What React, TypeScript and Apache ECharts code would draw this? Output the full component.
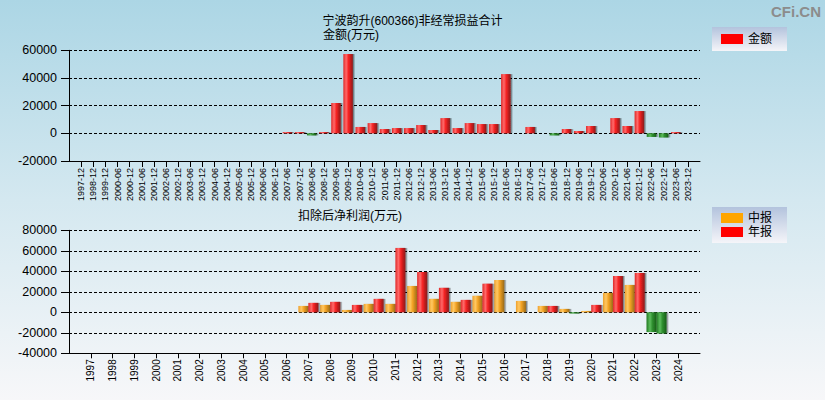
import React, { useEffect, useRef } from "react";
import * as echarts from "echarts";

const topCategories = [
  "1997-12", "1998-12", "1999-12", "2000-06", "2000-12", "2001-06", "2001-12", "2002-06", "2002-12",
  "2003-06", "2003-12", "2004-06", "2004-12", "2005-06", "2005-12", "2006-06", "2006-12", "2007-06",
  "2007-12", "2008-06", "2008-12", "2009-06", "2009-12", "2010-06", "2010-12", "2011-06", "2011-12",
  "2012-06", "2012-12", "2013-06", "2013-12", "2014-06", "2014-12", "2015-06", "2015-12", "2016-06",
  "2016-12", "2017-06", "2017-12", "2018-06", "2018-12", "2019-06", "2019-12", "2020-06", "2020-12",
  "2021-06", "2021-12", "2022-06", "2022-12", "2023-06", "2023-12",
];

const topValues: (number | null)[] = [
  null, null, null, null, null, null, null, null, null,
  null, null, null, null, null, null, null, null, 900,
  900, -1500, 900, 21900, 57300, 4600, 7400, 3100, 3800,
  3800, 6000, 2400, 11000, 3800, 7400, 6700, 6700, 42800,
  null, 4600, null, -1500, 3100, 1700, 5300, null, 11000,
  5300, 16100, -2600, -3000, 900, null,
];

const years = [
  "1997", "1998", "1999", "2000", "2001", "2002", "2003", "2004", "2005", "2006", "2007", "2008", "2009", "2010",
  "2011", "2012", "2013", "2014", "2015", "2016", "2017", "2018", "2019", "2020", "2021", "2022", "2023", "2024",
];

const interimValues: (number | null)[] = [
  null, null, null, null, null, null, null, null, null, null, 6200, 7200, 2300, 8200,
  8200, 25700, 13100, 10200, 16100, 31500, 11100, 6200, 3300, 1300, 19000, 26700, -19300, null,
];

const annualValues: (number | null)[] = [
  null, null, null, null, null, null, null, null, null, null, 9200, 10200, 7200, 13100,
  62800, 39300, 23900, 12100, 27900, null, null, 6200, -1200, 7200, 35400, 38400, -20700, null,
];

const grad = (stops: [number, string][]) =>
  new echarts.graphic.LinearGradient(0, 0, 1, 0, stops.map(([offset, color]) => ({ offset, color })));

const redGrad = () => grad([[0, "#e02828"], [0.3, "#ff6a6a"], [0.55, "#f52222"], [1, "#8c1a1a"]]);
const orangeGrad = () => grad([[0, "#eea02c"], [0.3, "#ffc862"], [0.55, "#f2a224"], [1, "#9a6b18"]]);
const greenGrad = () => grad([[0, "#1e7a1e"], [0.35, "#5cbc5c"], [0.6, "#2e8e2e"], [1, "#1a5e1a"]]);

const pad = <T,>(arr: T[], v: T): T[] => [v, ...arr, v];

const FONT = "'Liberation Sans', 'Noto Sans CJK SC', sans-serif";

export default function App() {
  const ref = useRef<HTMLDivElement>(null);

  useEffect(() => {
    if (!ref.current) return;
    const chart = echarts.init(ref.current, undefined, { renderer: "svg" });

    const legendBg = new echarts.graphic.LinearGradient(0, 0, 0, 1, [
      { offset: 0, color: "#b3c3dd" },
      { offset: 1, color: "#f5f5f9" },
    ]);

    const yAxisCommon = {
      type: "value" as const,
      interval: 20000,
      axisLine: { show: true, lineStyle: { color: "#000", width: 1 } },
      axisTick: { show: true, length: 8, lineStyle: { color: "#000" } },
      axisLabel: {
        color: "#000",
        fontSize: 12.5,
        fontFamily: FONT,
        margin: 12,
        formatter: (v: number) => String(v),
      },
      splitLine: { show: true, lineStyle: { color: "#000", type: [3, 2] as any, width: 1 } },
    };

    const shadow = { shadowColor: "rgba(0,0,0,0.45)", shadowOffsetX: 1.5, shadowOffsetY: 0, shadowBlur: 0 };

    chart.setOption({
      animation: false,
      backgroundColor: "transparent",
      textStyle: { fontFamily: FONT },
      title: [
        {
          text: "宁波韵升(600366)非经常损益合计",
          left: "center",
          top: 10,
          textStyle: { fontSize: 12, fontWeight: "normal", color: "#000", fontFamily: FONT },
        },
        {
          text: "金额(万元)",
          left: 318,
          top: 24,
          textStyle: { fontSize: 12, fontWeight: "normal", color: "#000", fontFamily: FONT },
        },
        {
          text: "扣除后净利润(万元)",
          left: 293,
          top: 205,
          textStyle: { fontSize: 12, fontWeight: "normal", color: "#000", fontFamily: FONT },
        },
      ],
      graphic: [
        {
          type: "text",
          right: 4,
          top: 4,
          style: { text: "CFi.CN", fill: "#8c8c8c", font: `bold 15px ${FONT}` },
        },
      ],
      legend: [
        {
          left: 712,
          top: 27,
          padding: [6, 15, 6, 9],
          itemWidth: 22,
          itemHeight: 10,
          icon: "rect",
          backgroundColor: legendBg,
          textStyle: { fontSize: 12, color: "#000", fontFamily: FONT },
          data: [{ name: "金额", itemStyle: { color: "#ff0000", shadowBlur: 0, shadowOffsetX: 0 } }],
          selectedMode: false,
        },
        {
          left: 712,
          top: 207,
          orient: "vertical",
          padding: [5, 15, 5, 9],
          itemGap: 2,
          itemWidth: 22,
          itemHeight: 10,
          icon: "rect",
          backgroundColor: legendBg,
          textStyle: { fontSize: 12, color: "#000", fontFamily: FONT },
          data: [
            { name: "中报", itemStyle: { color: "#ffa500", shadowBlur: 0, shadowOffsetX: 0 } },
            { name: "年报", itemStyle: { color: "#ff0000", shadowBlur: 0, shadowOffsetX: 0 } },
          ],
          selectedMode: false,
        },
      ],
      grid: [
        { left: 69, top: 50.3, width: 631, height: 110.7, containLabel: false },
        { left: 69, top: 230.3, width: 631, height: 123, containLabel: false },
      ],
      xAxis: [
        {
          type: "category",
          gridIndex: 0,
          boundaryGap: false,
          data: pad(topCategories, ""),
          axisLine: { show: true, onZero: false, lineStyle: { color: "#000" } },
          axisTick: {
            show: true,
            length: 6,
            interval: (_i: number, v: string) => v !== "",
            lineStyle: { color: "#000" },
          },
          axisLabel: { interval: 0, rotate: 90, fontSize: 9, color: "#000", margin: 7, fontFamily: FONT },
          splitLine: { show: false },
        },
        {
          type: "category",
          gridIndex: 1,
          boundaryGap: false,
          data: pad(years, ""),
          axisLine: { show: true, onZero: false, lineStyle: { color: "#000" } },
          axisTick: {
            show: true,
            length: 5,
            interval: (_i: number, v: string) => v !== "",
            lineStyle: { color: "#000" },
          },
          axisLabel: { interval: 0, rotate: 90, fontSize: 10, color: "#000", margin: 6, fontFamily: FONT },
          splitLine: { show: false },
        },
      ],
      yAxis: [
        { ...yAxisCommon, gridIndex: 0, min: -20000, max: 60000 },
        { ...yAxisCommon, gridIndex: 1, min: -40000, max: 80000 },
      ],
      series: [
        {
          name: "金额",
          type: "bar",
          xAxisIndex: 0,
          yAxisIndex: 0,
          barWidth: 9.5,
          data: pad(topValues, null),
          itemStyle: {
            ...shadow,
            color: (p: any) => (p.value < 0 ? greenGrad() : redGrad()),
          },
        },
        {
          name: "中报",
          type: "bar",
          xAxisIndex: 1,
          yAxisIndex: 1,
          barWidth: 10,
          barGap: "0%",
          data: pad(interimValues, null),
          itemStyle: {
            ...shadow,
            color: (p: any) => (p.value < 0 ? greenGrad() : orangeGrad()),
          },
        },
        {
          name: "年报",
          type: "bar",
          xAxisIndex: 1,
          yAxisIndex: 1,
          barWidth: 10,
          barGap: "0%",
          data: pad(annualValues, null),
          itemStyle: {
            ...shadow,
            color: (p: any) => (p.value < 0 ? greenGrad() : redGrad()),
          },
        },
      ],
    });

    return () => chart.dispose();
  }, []);

  return (
    <div
      style={{
        position: "fixed",
        left: 0,
        top: 0,
        width: 825,
        height: 400,
        background: "linear-gradient(to bottom, #acd6e5 0%, #d4e8f0 50%, #f7f7f9 100%)",
      }}
    >
      <div ref={ref} style={{ width: 825, height: 400 }} />
    </div>
  );
}
